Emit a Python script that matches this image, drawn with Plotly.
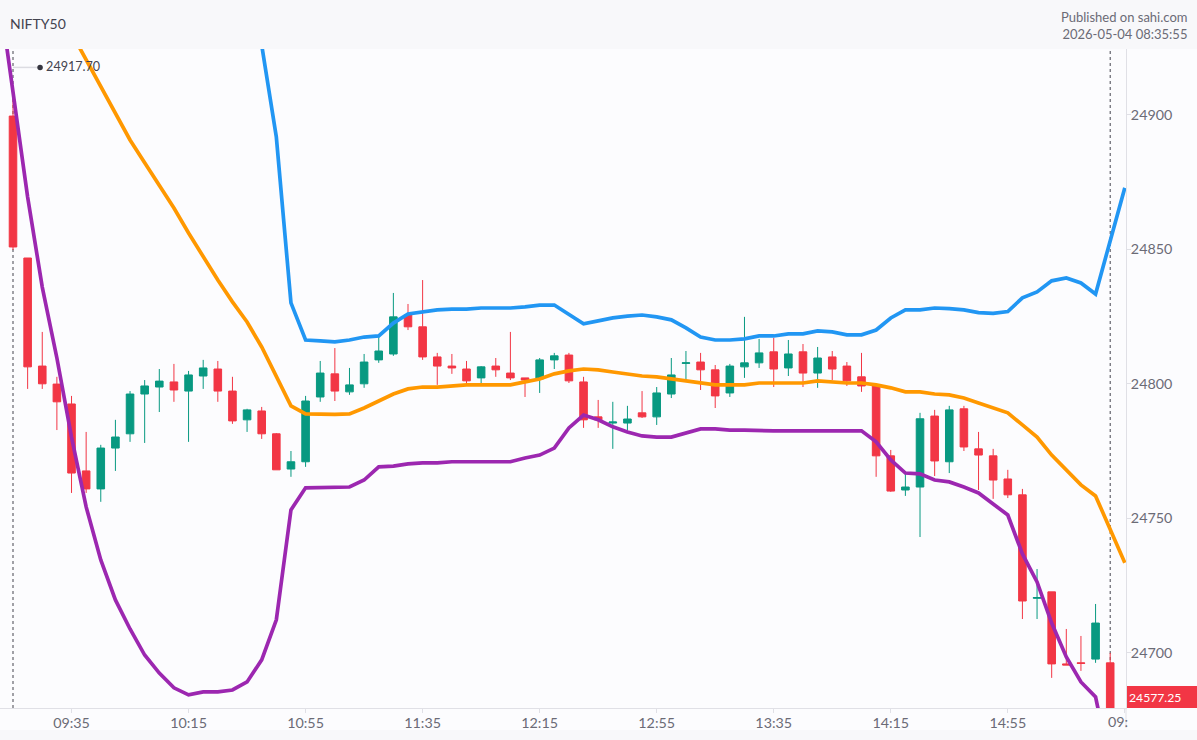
import plotly.graph_objects as go

# bar numbers: -1 is the last bar of the previous session, 0 is 09:15
bar_index = list(range(-1, 77))
tick_bars = [4, 12, 20, 28, 36, 44, 52, 60, 68, 76]
tick_labels = ["09:35", "10:15", "10:55", "11:35", "12:15", "12:55", "13:35", "14:15", "14:55", ""]
price_ticks = [24700, 24750, 24800, 24850, 24900]

opens = [None,
    24899.6, 24846.8, 24806.6, 24799.9, 24792.5, 24767.6, 24760.9, 24776.1, 24781.4, 24796.2,
    24798.8, 24800.7, 24797.3, 24802.9, 24805.5, 24797.3, 24786.6, 24789.9, 24781.4, 24768.3,
    24771.0, 24795.1, 24803.7, 24797.0, 24800.0, 24808.9, 24811.1, 24825.6, 24821.2, 24810.0,
    24806.6, 24805.5, 24802.2, 24806.6, 24804.0, 24802.2, 24801.8, 24808.9, 24810.7, 24800.7,
    24787.7, 24785.4, 24785.4, 24789.2, 24787.7, 24796.2, 24807.6, 24808.1, 24805.2, 24796.6,
    24806.3, 24807.8, 24811.9, 24805.9, 24811.9, 24804.0, 24810.0, 24806.6, 24802.6, 24799.6,
    24773.2, 24760.5, 24761.6, 24788.0, 24771.0, 24790.7, 24775.8, 24773.2, 24764.6, 24758.7,
    24720.2, 24722.6, 24695.8, 24696.2, 24697.6, 24696.2, None]
highs = [None,
    24906.3, 24846.8, 24819.3, 24802.6, 24795.5, 24782.1, 24777.3, 24786.6, 24797.3, 24801.4,
    24805.5, 24807.4, 24804.8, 24808.9, 24808.5, 24802.6, 24790.7, 24791.4, 24781.7, 24775.0,
    24795.5, 24808.5, 24813.3, 24805.9, 24811.1, 24817.4, 24833.8, 24829.7, 24838.6, 24811.5,
    24811.1, 24808.5, 24806.6, 24809.6, 24819.3, 24802.2, 24809.6, 24811.5, 24811.5, 24802.6,
    24794.0, 24793.3, 24791.8, 24797.3, 24798.8, 24809.6, 24812.2, 24811.5, 24807.0, 24807.4,
    24824.9, 24816.7, 24817.1, 24816.3, 24814.8, 24813.7, 24812.2, 24808.1, 24811.5, 24800.0,
    24775.4, 24766.8, 24789.2, 24790.3, 24791.8, 24791.8, 24782.1, 24775.8, 24768.0, 24760.9,
    24731.1, 24722.6, 24708.8, 24706.2, 24718.1, 24699.9, None]
lows = [None,
    24849.8, 24798.1, 24798.1, 24782.8, 24759.4, 24759.4, 24756.1, 24767.6, 24778.4, 24778.0,
    24789.5, 24793.3, 24778.4, 24798.1, 24793.3, 24785.1, 24782.1, 24779.5, 24768.0, 24765.4,
    24769.1, 24793.3, 24793.6, 24795.9, 24798.5, 24807.8, 24810.4, 24820.0, 24808.9, 24799.6,
    24803.7, 24800.3, 24800.3, 24802.6, 24801.4, 24795.1, 24796.6, 24805.5, 24800.3, 24783.6,
    24783.6, 24775.8, 24782.8, 24787.3, 24784.7, 24794.7, 24801.4, 24797.7, 24791.0, 24795.1,
    24802.2, 24805.9, 24798.8, 24802.9, 24798.8, 24798.5, 24801.4, 24799.2, 24797.0, 24765.4,
    24759.8, 24758.3, 24743.0, 24765.7, 24766.8, 24775.0, 24760.5, 24757.2, 24757.5, 24712.5,
    24712.5, 24690.6, 24695.4, 24693.2, 24696.2, 24570.0, None]
closes = [None,
    24850.9, 24806.3, 24800.0, 24793.3, 24766.8, 24760.9, 24776.1, 24780.2, 24796.2, 24799.2,
    24801.0, 24797.7, 24803.3, 24805.9, 24797.3, 24786.2, 24790.3, 24781.4, 24768.0, 24771.0,
    24793.6, 24804.0, 24797.3, 24799.6, 24808.1, 24812.2, 24824.9, 24821.2, 24810.0, 24806.6,
    24805.9, 24801.1, 24806.3, 24805.2, 24802.2, 24801.4, 24808.9, 24810.4, 24801.1, 24786.6,
    24786.6, 24785.8, 24786.9, 24787.7, 24796.6, 24803.3, 24807.8, 24805.2, 24795.5, 24806.6,
    24807.8, 24811.5, 24805.5, 24811.1, 24804.0, 24809.6, 24805.5, 24801.1, 24799.2, 24773.2,
    24760.1, 24761.6, 24787.0, 24771.3, 24790.3, 24776.5, 24773.5, 24764.2, 24758.7, 24719.2,
    24720.5, 24695.8, 24695.4, 24696.0, 24711.0, 24577.25, None]

# Bollinger style bands
upper_band = [None] * 18 + [
    24926.0, 24891.8, 24830.1, 24816.3, 24816.0, 24815.6, 24816.3, 24817.4, 24817.8, 24822.6,
    24826.0, 24826.7, 24827.5, 24827.8, 24827.8, 24828.2, 24828.2, 24828.2, 24828.6, 24829.3,
    24829.3, 24826.0, 24822.3, 24823.4, 24824.5, 24825.2, 24825.6, 24824.9, 24823.8, 24820.8,
    24817.4, 24816.3, 24816.3, 24816.7, 24817.8, 24817.8, 24818.6, 24818.6, 24819.7, 24819.3,
    24818.2, 24818.2, 24820.0, 24824.5, 24827.5, 24827.5, 24828.2, 24828.0, 24827.5, 24826.5,
    24826.2, 24826.9, 24832.0, 24834.2, 24838.3, 24839.4, 24837.5, 24833.4, 24853.1, 24872.9]
middle_band = [None] * 5 + [
    24930.5, 24920.5, 24910.1, 24900.0, 24890.7, 24882.2, 24874.0, 24865.4, 24856.1, 24847.2,
    24838.6, 24830.5, 24823.0, 24813.7, 24802.6, 24791.8, 24788.8, 24788.6, 24788.6, 24788.8,
    24791.0, 24793.6, 24796.2, 24798.1, 24798.8, 24798.8, 24799.2, 24799.6, 24799.6, 24799.6,
    24799.6, 24800.7, 24801.8, 24803.7, 24804.8, 24805.5, 24805.2, 24804.4, 24803.7, 24802.9,
    24802.6, 24801.8, 24801.1, 24800.3, 24799.6, 24799.6, 24799.6, 24800.3, 24800.3, 24800.3,
    24800.3, 24801.1, 24800.7, 24800.3, 24800.3, 24799.6, 24798.5, 24797.0, 24797.0, 24796.2,
    24795.9, 24794.7, 24792.9, 24791.0, 24789.2, 24784.7, 24780.2, 24773.5, 24768.0, 24762.4,
    24758.3, 24745.6, 24733.4]
lower_band = [
    24947.6, 24907.8, 24869.5, 24836.0, 24809.6, 24780.2, 24754.2, 24734.5, 24719.6, 24708.8,
    24699.1, 24692.4, 24686.9, 24684.3, 24685.4, 24685.4, 24686.1, 24689.1, 24697.3, 24712.2,
    24753.1, 24761.3, 24761.3, 24761.3, 24761.6, 24764.2, 24769.1, 24769.4, 24770.2, 24770.6,
    24770.6, 24771.0, 24771.0, 24771.0, 24771.0, 24771.0, 24772.4, 24773.5, 24776.1, 24783.6,
    24788.4, 24786.6, 24784.0, 24782.1, 24780.6, 24780.2, 24780.2, 24781.7, 24783.2, 24783.2,
    24782.8, 24782.8, 24782.5, 24782.5, 24782.5, 24782.5, 24782.5, 24782.5, 24782.5, 24782.5,
    24778.4, 24771.7, 24766.8, 24766.5, 24764.2, 24763.5, 24761.6, 24759.4, 24755.3, 24751.2,
    24736.7, 24726.3, 24711.0, 24698.4, 24689.1, 24683.5, 24657.8, 24645.2]

day_high = 24917.70
last_close = 24577.25

RED = "#f23645"
GREEN = "#089981"
GREY = "#6b6b76"
AXIS = "#e0e0e6"
W, H = 1197, 740
L, R, T, B = 0, 71, 49, 32
plot_w = W - L - R
plot_h = H - T - B

fig = go.Figure()
fig.add_trace(go.Candlestick(
    x=bar_index, open=opens, high=highs, low=lows, close=closes,
    increasing=dict(line=dict(color=GREEN, width=1), fillcolor=GREEN),
    decreasing=dict(line=dict(color=RED, width=1), fillcolor=RED),
    whiskerwidth=0,
))
for band, col in [(lower_band, "#9c27b0"), (middle_band, "#ff9800"), (upper_band, "#2196f3")]:
    fig.add_trace(go.Scatter(x=bar_index, y=band, mode="lines", line=dict(color=col, width=3.7), connectgaps=False))

# high marker, thin line from the first bar to a dot with the price
fig.add_trace(go.Scatter(
    x=[0, 1.85], y=[day_high, day_high], mode="lines+markers+text",
    line=dict(color="#dcdce2", width=1.5),
    marker=dict(color=["rgba(0,0,0,0)", "#35353f"], size=5.5),
    text=["", f"\u2009{day_high:.2f}"], textposition="middle right",
    textfont=dict(family="Lato", size=12.6, color="#43434f"),
))

fig.update_layout(
    width=W, height=H,
    margin=dict(l=L, r=R, t=T, b=B),
    paper_bgcolor="#fcfcfe", plot_bgcolor="#fcfcfe",
    showlegend=False,
    boxgap=0.26,
    font=dict(family="Lato", size=14.3, color=GREY),
    xaxis=dict(
        range=[-0.889, 76.08], rangeslider=dict(visible=False), showgrid=False, zeroline=False,
        tickmode="array", tickvals=tick_bars, ticktext=tick_labels,
        ticks="outside", ticklen=4, tickcolor=AXIS, ticklabelstandoff=-2,
        showline=True, linecolor=AXIS, linewidth=1,
    ),
    yaxis=dict(
        range=[24679.4, 24924.55], side="right", showgrid=False, zeroline=False,
        tickmode="array", tickvals=price_ticks, tickformat="d",
        ticks="outside", ticklen=4, tickcolor=AXIS, ticklabelstandoff=-3,
        showline=True, linecolor=AXIS, linewidth=1,
    ),
)

# header and footer bands
fig.add_shape(type="rect", xref="paper", yref="paper", x0=0, x1=W / plot_w, y0=1, y1=1 + T / plot_h,
              fillcolor="#f8f8fa", line_width=0, layer="below")
fig.add_shape(type="rect", xref="paper", yref="paper", x0=0, x1=W / plot_w, y0=-B / plot_h, y1=-22 / plot_h,
              fillcolor="#f8f8fa", line_width=0, layer="below")
# axis line carries on a bit under the plot
fig.add_shape(type="line", xref="paper", yref="paper", x0=1, x1=1, y0=-20 / plot_h, y1=0,
              line=dict(color=AXIS, width=1), layer="below")

# crosshair style dotted lines on first and last bar
for b in [0, 75]:
    fig.add_shape(type="line", xref="x", yref="paper", x0=b, x1=b, y0=0, y1=1,
                  line=dict(color="#44444f", width=1, dash="dot"), layer="below")

# price tag on the right axis
fig.add_shape(type="rect", xref="paper", yref="paper", x0=1127 / plot_w, x1=W / plot_w, y0=0, y1=22 / plot_h,
              fillcolor=RED, line_width=0)
fig.add_annotation(xref="paper", yref="paper", x=1129 / plot_w, y=11 / plot_h, text=f"{last_close:.2f}",
                   showarrow=False, xanchor="left", yanchor="middle", xshift=-2,
                   font=dict(family="Lato", size=12.2, color="#ffffff"))

fig.add_annotation(xref="paper", yref="paper", x=10 / plot_w, y=1 + 26 / plot_h, text="NIFTY50",
                   showarrow=False, xanchor="left", yanchor="middle", xshift=-2,
                   font=dict(family="Lato", size=14, color="#43434f"))
fig.add_annotation(xref="paper", yref="paper", x=1187 / plot_w, y=1 + 24 / plot_h,
                   text="Published on sahi.com<br>2026-05-04 08:35:55", align="right",
                   showarrow=False, xanchor="right", yanchor="middle", xshift=2,
                   font=dict(family="Lato", size=13, color=GREY))
# last time label is cut by the axis edge in the original
fig.add_annotation(xref="paper", yref="paper", x=1107 / plot_w, y=-13 / plot_h, text="09:",
                   showarrow=False, xanchor="left", yanchor="middle", xshift=-1,
                   font=dict(family="Lato", size=14.3, color=GREY))

fig.write_html("out.html", config={"displayModeBar": False}, post_script="document.body.style.margin='0';")
